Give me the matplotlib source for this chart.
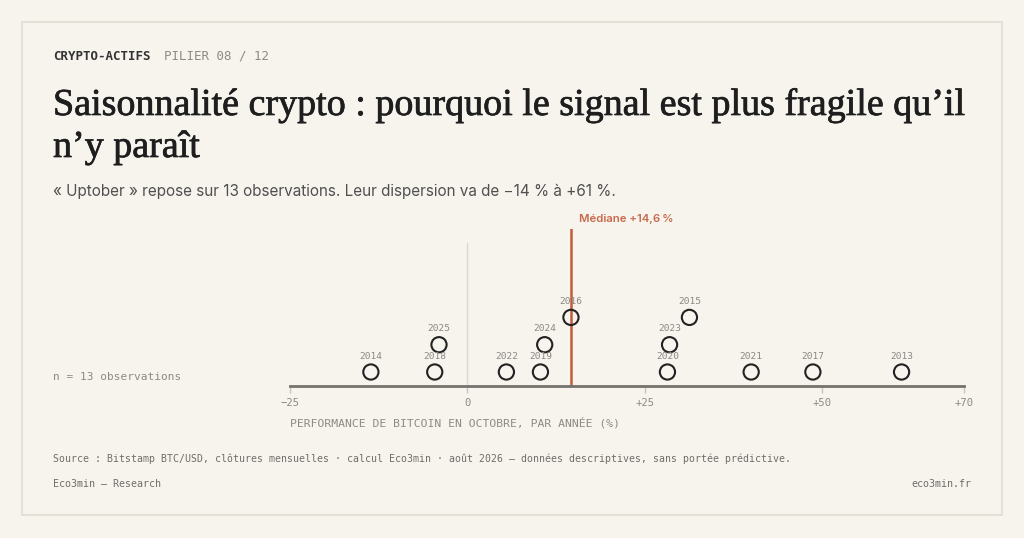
import numpy as np
import matplotlib
matplotlib.use("Agg")
import matplotlib.pyplot as plt
import matplotlib.patheffects as pe
from matplotlib.patches import Rectangle

# ---------------------------- donnees ----------------------------
annees = [2013, 2014, 2015, 2016, 2017, 2018, 2019, 2020, 2021, 2022, 2023, 2024, 2025]
perf_oct = [61.2, -13.6, 31.3, 14.6, 48.7, -4.6, 10.3, 28.2, 40.0, 5.5, 28.5, 10.9, -4.0]
ticks = [-25, 0, 25, 50, 70]
tick_labels = ["−25", "0", "+25", "+50", "+70"]
mediane = float(np.median(perf_oct))

# ---------------------------- couleurs ----------------------------
FOND = "#f7f4ee"
BORD = "#e2ddd0"
ENCRE = "#1e1e1e"
GRIS = "#8c8a86"
ROUILLE = "#c4593c"
MONO = "DejaVu Sans Mono"

# empilement simple (dodge) : niveau le plus bas sans collision
ordre = np.argsort(perf_oct)
niveaux = [0] * len(perf_oct)
places = []
for i in ordre:
    k = 0
    while any(abs(perf_oct[i] - v) < 4.5 and n == k for v, n in places):
        k += 1
    niveaux[i] = k
    places.append((perf_oct[i], k))

W, H = 1024, 538
fig = plt.figure(figsize=(W / 100, H / 100), dpi=100, facecolor=FOND)

def px(x, y):
    return x / W, 1 - y / H

# cadre
fig.patches.append(Rectangle(px(22, 515), 980 / W, 493 / H, transform=fig.transFigure,
                             facecolor="none", edgecolor=BORD, lw=1.2))

# ---------------------------- textes ----------------------------
fig.text(*px(53, 56), "CRYPTO-ACTIFS", family=MONO, fontsize=9, weight="bold",
         color="#333333", va="center")
fig.text(*px(164, 56), "PILIER 08 / 12", family=MONO, fontsize=9, color=GRIS, va="center")
gras = [pe.withStroke(linewidth=0.5, foreground=ENCRE)]
fig.text(*px(53, 115), "Saisonnalité crypto : pourquoi le signal est plus fragile qu’il",
         family="Liberation Serif", fontsize=27.4, color=ENCRE, va="baseline", path_effects=gras)
fig.text(*px(53, 157), "n’y paraît", family="Liberation Serif", fontsize=27.4,
         color=ENCRE, va="baseline", path_effects=gras)
fig.text(*px(53, 196), "« Uptober » repose sur 13 observations. Leur dispersion va de −14 % à +61 %.",
         family="Inter", fontsize=11, color="#505050", va="baseline")
fig.text(*px(53, 377), "n = 13 observations", family=MONO, fontsize=8, color=GRIS, va="center")
fig.text(*px(290, 423), "PERFORMANCE DE BITCOIN EN OCTOBRE, PAR ANNÉE (%)", family=MONO,
         fontsize=8.2, color=GRIS, va="center")
fig.text(*px(53, 459), "Source : Bitstamp BTC/USD, clôtures mensuelles · calcul Eco3min · août 2026 — "
         "données descriptives, sans portée prédictive.", family=MONO, fontsize=7.1,
         color="#6f6d69", va="center")
fig.text(*px(53, 484), "Eco3min — Research", family=MONO, fontsize=7.2, color="#6f6d69", va="center")
fig.text(*px(971, 484), "eco3min.fr", family=MONO, fontsize=7.2, color="#6f6d69", va="center",
         ha="right")

# ---------------------------- graphique ----------------------------
bas, haut = 386, 229
ax = fig.add_axes([290 / W, 1 - bas / H, 674 / W, (bas - haut) / H])
ax.set_facecolor("none")
pas = 27.3
y0 = -14 / pas
ax.set_xlim(-25, 70)
ax.set_ylim(y0, y0 + (bas - haut) / pas)

for s in ["top", "right", "left"]:
    ax.spines[s].set_visible(False)
ax.spines["bottom"].set_color("#74726e")
ax.spines["bottom"].set_linewidth(2)
ax.set_yticks([])
ax.set_xticks(ticks)
ax.set_xticklabels(tick_labels, family=MONO, fontsize=7.6, color=GRIS)
ax.tick_params(axis="x", length=5, width=1, color="#c9c5bc", pad=4)

# ligne du zero
ax.plot([0, 0], [y0, y0 + (bas - 243) / pas], color="#dcd8cf", lw=1, zorder=1)
# mediane
ax.axvline(mediane, color=ROUILLE, lw=1.8, zorder=2)
ax.annotate("Médiane +%s\u202f%%" % ("%.1f" % mediane).replace(".", ","),
            xy=(mediane, y0 + (bas - haut) / pas), xytext=(6, 7), textcoords="offset points",
            family=["Inter", "DejaVu Sans"], fontsize=8.2, weight="semibold", color="#c96a4c",
            va="center", annotation_clip=False)

ax.scatter(perf_oct, niveaux, s=120, facecolor="none", edgecolor="#222222", lw=1.5,
           zorder=3, clip_on=False)
for a, v, n in zip(annees, perf_oct, niveaux):
    ax.annotate(str(a), xy=(v, n), xytext=(0, 11.5), textcoords="offset points",
                ha="center", va="center", family=MONO, fontsize=6.8, color="#8a8884")

fig.savefig("out.png", dpi=100, facecolor=FOND)
